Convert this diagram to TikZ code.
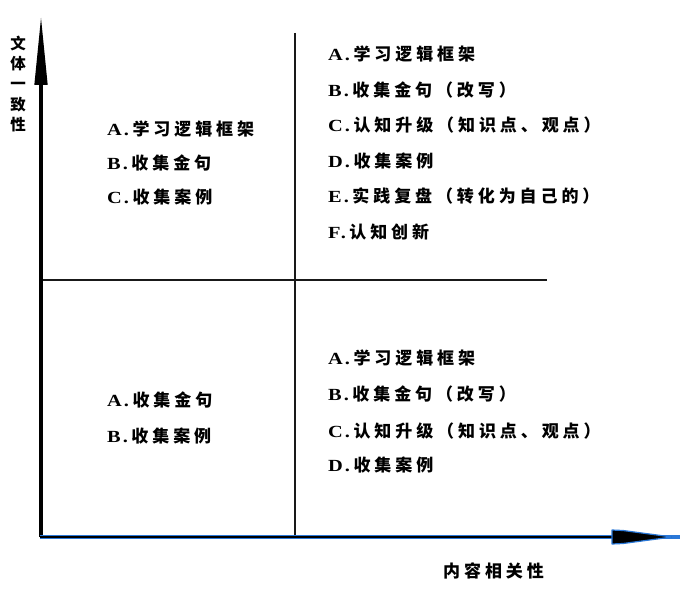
\documentclass[tikz,border=0pt]{standalone}
\usepackage{fontspec}
\setmainfont{Liberation Serif}
\newfontfamily\cjk{Noto Sans CJK SC}[LetterSpace=23]
\newfontfamily\cjkn{Noto Sans CJK SC}
\newfontfamily\lat{Liberation Serif}[LetterSpace=12,FakeStretch=1.2]
\newcommand\qitem[2]{{\lat\bfseries #1.}\hspace{3.5pt}{\cjk\bfseries #2}}
\definecolor{axblue}{HTML}{2A78D8}
\begin{document}
\begin{tikzpicture}[x=1pt,y=-1pt,
  itemtext/.style={anchor=base west,inner sep=0pt,font=\fontsize{17}{17}\selectfont},
  midline/.style={line width=2pt,black!90},
  axisline/.style={line width=3.4pt,black}]
\useasboundingbox[fill=white] (0,0) rectangle (692,593);
% coordinates
\coordinate (o) at (41,537);
\coordinate (ytop) at (41,85);
\coordinate (ytip) at (41,18);
\coordinate (xend) at (612,537);
\coordinate (xtip) at (680,537);
\coordinate (hl) at (41,280);
\coordinate (hr) at (547,280);
\coordinate (vt) at (295,33);
\coordinate (vb) at (295,535);
% midlines
\draw[midline] (hl) -- (hr);
\draw[midline] (vt) -- (vb);
% y axis
\draw[axisline] (o) -- (ytop);
\fill[black] (ytip) -- (47.7,85) -- (34.3,85) -- cycle;
% x axis
\draw[line width=4.4pt,axblue] ([xshift=-1pt]o) -- (xtip);
\draw[line width=2pt,black] ([xshift=-1pt]o) -- (xend);
\draw[axblue,line width=1.2pt,fill=black,line join=round] (612,530) -- (623,530.5) -- (672,537) -- (623,543.5) -- (612,544) -- cycle;
\draw[axblue,line width=1pt] (672,537) -- (xtip);
% axis labels
\node[inner sep=0pt,align=center,font=\cjkn\bfseries\fontsize{15.5}{20.4}\selectfont] (ylab) at (18,84) {文\\体\\一\\致\\性};
\node[anchor=base west,inner sep=0pt,font=\cjk\bfseries\fontsize{17}{17}\selectfont] (xlab) at (443,577.5) {内容相关性};
% top-left
\node[itemtext] (tl1) at (107,136) {\qitem{A}{学习逻辑框架}};
\node[itemtext] (tl2) at (107,169.5) {\qitem{B}{收集金句}};
\node[itemtext] (tl3) at (107,204) {\qitem{C}{收集案例}};
% top-right
\node[itemtext] (tr1) at (328,61) {\qitem{A}{学习逻辑框架}};
\node[itemtext] (tr2) at (328,96.5) {\qitem{B}{收集金句（改写）}};
\node[itemtext] (tr3) at (328,132) {\qitem{C}{认知升级（知识点、观点）}};
\node[itemtext] (tr4) at (328,167.5) {\qitem{D}{收集案例}};
\node[itemtext] (tr5) at (328,203) {\qitem{E}{实践复盘（转化为自己的）}};
\node[itemtext] (tr6) at (328,238.5) {\qitem{F}{认知创新}};
% bottom-left
\node[itemtext] (bl1) at (107,406) {\qitem{A}{收集金句}};
\node[itemtext] (bl2) at (107,442) {\qitem{B}{收集案例}};
% bottom-right
\node[itemtext] (br1) at (328,364) {\qitem{A}{学习逻辑框架}};
\node[itemtext] (br2) at (328,400.5) {\qitem{B}{收集金句（改写）}};
\node[itemtext] (br3) at (328,437) {\qitem{C}{认知升级（知识点、观点）}};
\node[itemtext] (br4) at (328,471.5) {\qitem{D}{收集案例}};
\end{tikzpicture}
\end{document}
